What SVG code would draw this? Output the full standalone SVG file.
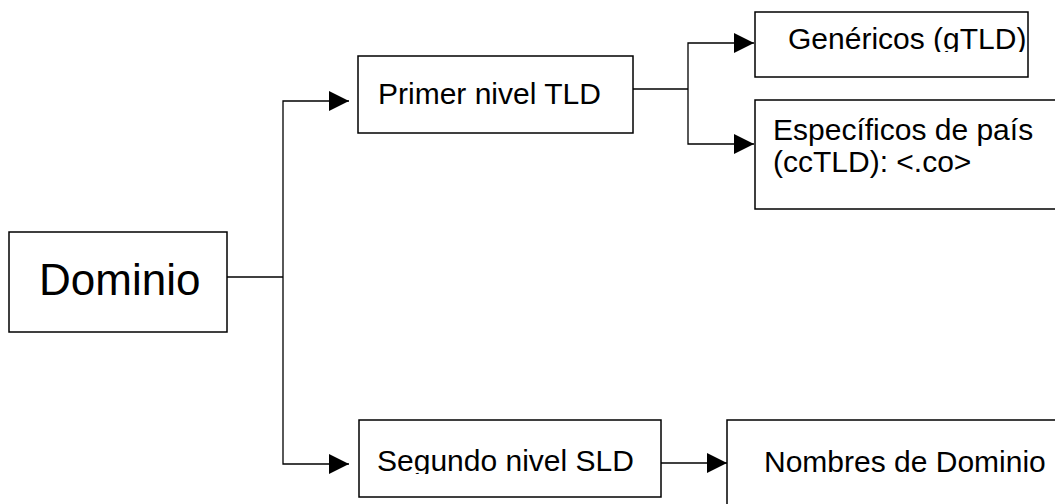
<svg xmlns="http://www.w3.org/2000/svg" width="1055" height="504" viewBox="0 0 1055 504">
  <style>
    .box { fill: #ffffff; stroke: #000000; stroke-width: 1.5; }
    .lbl { font-family: "Liberation Sans", Arial, sans-serif; font-size: 30px; fill: #000000; }
    .big { font-size: 44px; }
    .conn { fill: none; stroke: #000000; stroke-width: 1.3; }
  </style>
  <defs>
    <marker id="arrow" viewBox="0 0 20 20" refX="20" refY="10" markerWidth="20" markerHeight="20" markerUnits="userSpaceOnUse" orient="auto">
      <path d="M0,0 L20,10 L0,20 Z" fill="#000000"/>
    </marker>
    <clipPath id="clipGen"><rect x="755" y="12" width="300" height="40"/></clipPath>
    <clipPath id="clipSeg"><rect x="359" y="420" width="302" height="54"/></clipPath>
  </defs>
  <rect x="0" y="0" width="1055" height="504" fill="#ffffff"/>

  <g id="connectors">
    <path class="conn" d="M227,277 H283"/>
    <path class="conn" d="M283,277 V101 H349" marker-end="url(#arrow)"/>
    <path class="conn" d="M283,277 V464 H349" marker-end="url(#arrow)"/>
    <path class="conn" d="M633,89 H688"/>
    <path class="conn" d="M688,89 V43 H754" marker-end="url(#arrow)"/>
    <path class="conn" d="M688,89 V144 H754" marker-end="url(#arrow)"/>
    <path class="conn" d="M661,463 H727" marker-end="url(#arrow)"/>
  </g>

  <g id="node-dominio">
    <rect class="box" x="9" y="232" width="218" height="100"/>
    <text class="lbl big" x="39" y="295">Dominio</text>
  </g>

  <g id="node-primer">
    <rect class="box" x="358" y="56" width="275" height="77"/>
    <text class="lbl" x="378" y="104">Primer nivel TLD</text>
  </g>

  <g id="node-genericos">
    <rect class="box" x="755" y="12" width="273" height="65"/>
    <text class="lbl" x="788" y="49" clip-path="url(#clipGen)">Genéricos (gTLD)</text>
  </g>

  <g id="node-especificos">
    <rect class="box" x="755" y="100" width="310" height="109"/>
    <text class="lbl" x="773" y="140">Específicos de país</text>
    <text class="lbl" x="773" y="172">(ccTLD): &lt;.co&gt;</text>
  </g>

  <g id="node-segundo">
    <rect class="box" x="359" y="420" width="302" height="77"/>
    <text class="lbl" x="377" y="471" clip-path="url(#clipSeg)">Segundo nivel SLD</text>
  </g>

  <g id="node-nombres">
    <rect class="box" x="727" y="420" width="340" height="100"/>
    <text class="lbl" x="764" y="472">Nombres de Dominio</text>
  </g>
</svg>
